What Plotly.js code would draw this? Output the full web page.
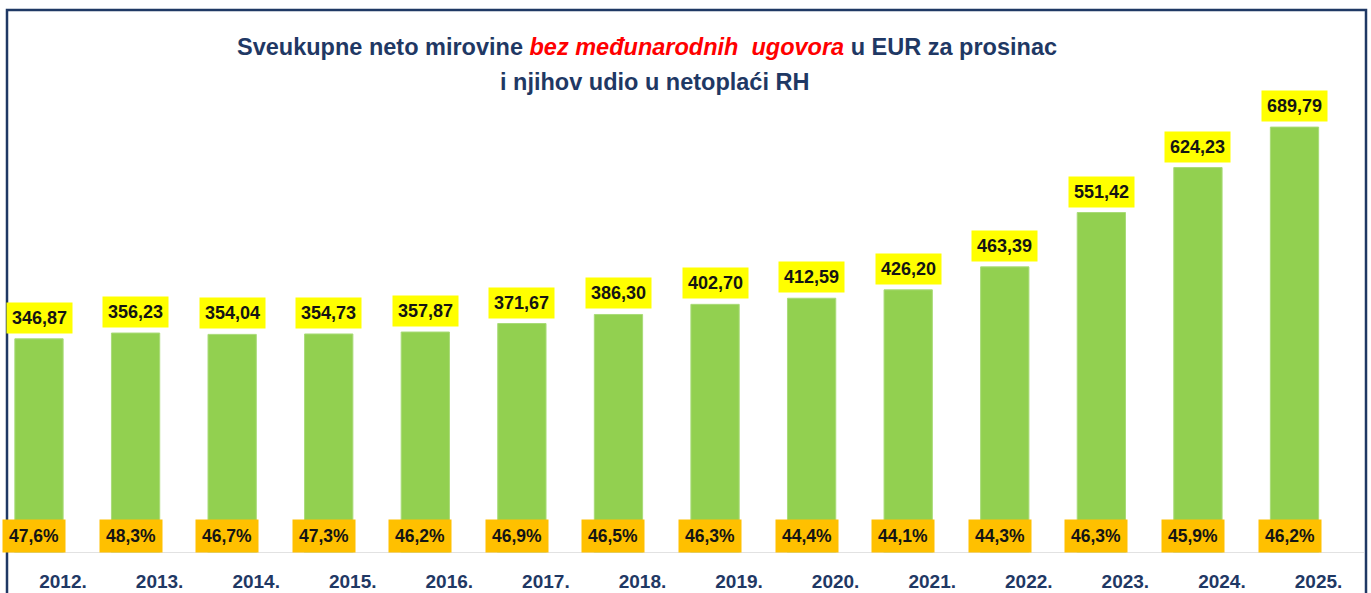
<!DOCTYPE html>
<html>
<head>
<meta charset="utf-8">
<script src="https://cdn.plot.ly/plotly-3.0.1.min.js"></script>
<style>html,body{margin:0;padding:0;background:#fff;}#chart{width:1371px;height:593px;}</style>
</head>
<body>
<div id="chart"></div>
<script>
const years = ["2012.","2013.","2014.","2015.","2016.","2017.","2018.","2019.","2020.","2021.","2022.","2023.","2024.","2025."];
const pensions = [346.87,356.23,354.04,354.73,357.87,371.67,386.30,402.70,412.59,426.20,463.39,551.42,624.23,689.79];
const shares = [47.6,48.3,46.7,47.3,46.2,46.9,46.5,46.3,44.4,44.1,44.3,46.3,45.9,46.2];
const titleLine1 = "Sveukupne neto mirovine <span style='color:#ff0000'><i>bez međunarodnih  ugovora</i></span> u EUR za prosinac";
const titleLine2 = "i njihov udio u netoplaći RH";

const fmt = (v, d) => v.toFixed(d).replace('.', ',');
const navy = '#1f3864';
const FONT = 'Liberation Sans, Arial, sans-serif';

const trace = {
  type: 'bar',
  x: years,
  y: pensions,
  width: 0.5,
  marker: {color: '#92d050', line: {color: '#a9db78', width: 1}},
  hoverinfo: 'x+y'
};

const plotH = 593 - 10 - 40;
const pxToPaperY = py => (593 - 40 - py) / plotH;

const annotations = [];
for (let i = 0; i < years.length; i++) {
  annotations.push({
    x: i, y: pensions[i], xref: 'x', yref: 'y',
    text: '<b>' + fmt(pensions[i], 2) + '</b>',
    showarrow: false, xanchor: 'center', yanchor: 'bottom', yshift: 5,
    bgcolor: '#ffff00', borderpad: 5,
    font: {family: FONT, size: 18, color: '#141414'}
  });
  annotations.push({
    x: i, y: 0, xref: 'x', yref: 'y',
    text: '<b>' + fmt(shares[i], 1) + '%</b>',
    showarrow: false, xanchor: 'center', yanchor: 'bottom', yshift: 0, xshift: -5,
    bgcolor: '#ffc000', borderpad: 6,
    font: {family: FONT, size: 17.5, color: '#141414'}
  });
}
annotations.push({
  x: 647/1371, y: pxToPaperY(47), xref: 'paper', yref: 'paper', xanchor: 'center', yanchor: 'middle',
  text: '<b>' + titleLine1 + '</b>', showarrow: false,
  font: {family: FONT, size: 23.5, color: navy}
});
annotations.push({
  x: 654/1371, y: pxToPaperY(82), xref: 'paper', yref: 'paper', xanchor: 'center', yanchor: 'middle',
  text: '<b>' + titleLine2 + '</b>', showarrow: false,
  font: {family: FONT, size: 23.5, color: navy}
});

const layout = {
  width: 1371, height: 593,
  margin: {l: 0, r: 0, t: 10, b: 40},
  paper_bgcolor: '#ffffff', plot_bgcolor: '#ffffff',
  showlegend: false,
  xaxis: {
    type: 'category', range: [-0.4038, 13.792], fixedrange: true,
    showgrid: false, zeroline: false, showline: false, ticks: '',
    tickfont: {family: FONT, size: 19, color: navy, weight: 'bold'},
    ticklabelshift: 24, ticklabelstandoff: 15
  },
  yaxis: {
    range: [0, 879.4], showticklabels: false, showgrid: false, zeroline: false, showline: false, ticks: '', fixedrange: true
  },
  annotations: annotations,
  shapes: [
    {type: 'line', xref: 'paper', yref: 'y', x0: 6/1371, x1: 1364/1371, y0: 0, y1: 0,
     line: {color: '#d9d9d9', width: 1.5}},
    {type: 'rect', xref: 'paper', yref: 'paper', x0: 7/1371, x1: 1366/1371, y0: -0.3, y1: 1.0,
     line: {color: navy, width: 2.5}, fillcolor: 'rgba(0,0,0,0)'}
  ]
};

Plotly.newPlot('chart', [trace], layout, {displayModeBar: false, staticPlot: true});
</script>
</body>
</html>
